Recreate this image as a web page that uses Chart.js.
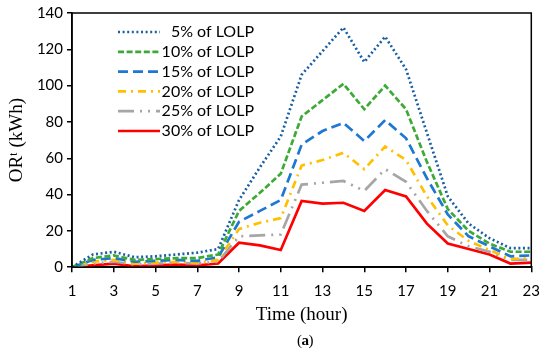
<!DOCTYPE html>
<html>
<head>
<meta charset="utf-8">
<script src="https://cdn.jsdelivr.net/npm/chart.js@4.4.1/dist/chart.umd.min.js"></script>
<style>
  body { margin: 0; background: #fff; }
</style>
</head>
<body>
<canvas id="orChart" width="550" height="352"></canvas>
<script>
// hours of the day shown on the x axis
const hours = [1, 2, 3, 4, 5, 6, 7, 8, 9, 10, 11, 12, 13, 14, 15, 16, 17, 18, 19, 20, 21, 22, 23];
const xTicks = [1, 3, 5, 7, 9, 11, 13, 15, 17, 19, 21, 23];
const yTicks = [0, 20, 40, 60, 80, 100, 120, 140];

// OR^t (kWh) for each LOLP level
const lolp5  = [0, 7, 8.5, 5.5, 6, 7, 8, 10, 37, 55, 72, 106, 119, 132, 113, 127, 109, 74, 39, 24, 16, 10.5, 10.5];
const lolp10 = [0, 5, 6.5, 4, 4.5, 5, 5, 7, 31, 41, 51.5, 83, 92, 101, 87, 100, 87, 58, 32, 20, 13, 8.5, 8.5];
const lolp15 = [0, 4, 5, 3, 3.5, 4, 3.5, 5.5, 25, 31, 37, 67.5, 75, 79.5, 69.5, 81, 71, 49, 29, 17, 11.5, 6, 6.5];
const lolp20 = [0, 3, 4, 2, 2.5, 3, 2.5, 4, 21, 24.5, 27, 56, 59, 63, 54, 66.5, 59, 39, 23, 14.5, 9.5, 4.5, 5];
const lolp25 = [0, 2, 3, 1.5, 2, 2.5, 2, 3, 17, 17.5, 18, 45.5, 46.5, 47.5, 42, 54, 47, 31, 17, 11.5, 8.5, 4, 4];
const lolp30 = [0, 1, 2, 0.5, 1, 1.5, 1, 2, 13.5, 12, 9.5, 36.5, 35, 35.5, 31, 42.5, 39, 24, 13, 10, 7, 2, 2.5];

const seriesNames = [' 5% of LOLP', '10% of LOLP', '15% of LOLP', '20% of LOLP', '25% of LOLP', '30% of LOLP'];
const seriesValues = [lolp5, lolp10, lolp15, lolp20, lolp25, lolp30];
const seriesColors = ['#1a5fa3', '#3daa35', '#1e78d2', '#ffc000', '#a6a6a6', '#ff0000'];
const seriesDashes = [[2, 2.6], [6, 2.6], [10, 5], [8, 5, 2, 5], [16, 6, 2, 6, 2, 6], []];

const datasets = seriesNames.map((name, i) => ({
    label: name,
    data: hours.map((h, j) => ({ x: h, y: seriesValues[i][j] })),
    borderColor: seriesColors[i],
    borderWidth: 2.7,
    borderDash: seriesDashes[i],
    pointRadius: 0,
    tension: 0,
    fill: false
}));

// box round the plot, the legend inside it and the "(a)" caption
const extras = {
    id: 'extras',
    afterDraw(chart) {
        const c = chart.ctx;
        const a = chart.chartArea;
        c.save();
        c.strokeStyle = '#000';
        c.lineWidth = 1.5;
        c.setLineDash([]);
        c.strokeRect(a.left, a.top, a.right - a.left, a.bottom - a.top);

        c.font = '16px Lato';
        c.textAlign = 'right';
        c.textBaseline = 'middle';
        chart.data.datasets.forEach((ds, i) => {
            const y = 32 + i * 19.8;
            c.strokeStyle = ds.borderColor;
            c.lineWidth = ds.borderWidth;
            c.setLineDash(ds.borderDash);
            c.beginPath();
            c.moveTo(118, y);
            c.lineTo(160, y);
            c.stroke();
            c.fillStyle = '#000';
            c.fillText(ds.label, 254, y);
        });

        c.setLineDash([]);
        c.textAlign = 'center';
        c.fillStyle = '#000';
        c.font = '15px "Liberation Serif"';
        c.fillText('(', 299.5, 341);
        c.fillText(')', 311, 341);
        c.font = 'bold 15px "Liberation Serif"';
        c.fillText('a', 305.3, 341);
        c.restore();
    }
};

const ctx = document.getElementById('orChart').getContext('2d');
const orChart = new Chart(ctx, {
    type: 'line',
    data: { datasets: datasets },
    options: {
        responsive: false,
        animation: false,
        devicePixelRatio: 1,
        layout: { padding: { top: 12, right: 12, left: 0, bottom: 26 } },
        plugins: {
            legend: { display: false },
            tooltip: { enabled: false }
        },
        scales: {
            x: {
                type: 'linear',
                min: 1,
                max: 23,
                afterBuildTicks: (scale) => { scale.ticks = xTicks.map(v => ({ value: v })); },
                ticks: { color: '#000', font: { family: 'Lato', size: 15 }, padding: 10 },
                grid: { drawOnChartArea: false, color: '#000', lineWidth: 1.5, tickLength: 5 },
                border: { color: '#000', width: 1.5 },
                title: {
                    display: true,
                    text: 'Time (hour)',
                    color: '#000',
                    font: { family: 'Liberation Serif', size: 19 },
                    padding: { top: -7, bottom: 0 }
                }
            },
            y: {
                min: 0,
                max: 140,
                afterBuildTicks: (scale) => { scale.ticks = yTicks.map(v => ({ value: v })); },
                afterFit: (scale) => { scale.width = 72; },
                ticks: { color: '#000', font: { family: 'Lato', size: 15 }, padding: 4 },
                grid: { drawOnChartArea: false, color: '#000', lineWidth: 1.5, tickLength: 5 },
                border: { color: '#000', width: 1.5 },
                title: {
                    display: true,
                    text: 'ORᵗ (kWh)',
                    color: '#000',
                    font: { family: 'Liberation Serif', size: 19 },
                    padding: { top: 6 }
                }
            }
        }
    },
    plugins: [extras]
});
</script>
</body>
</html>
